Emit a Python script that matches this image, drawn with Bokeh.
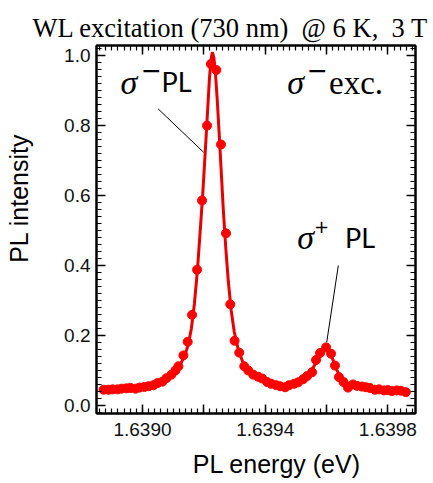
import math
from bokeh.plotting import figure
from bokeh.models import (Range1d, LinearAxis, SingleIntervalTicker, PrintfTickFormatter,
                          CustomJSTickFormatter, Label, Title)
from bokeh.embed import file_html
from bokeh.resources import INLINE

# ---- data ----
energy_pts = [1.6388732, 1.6388894, 1.6389024, 1.6389187, 1.6389317, 1.6389480, 1.6389610,
              1.6389772, 1.6389902, 1.6390065, 1.6390195, 1.6390358, 1.6390488, 1.6390650,
              1.6390780, 1.6390943, 1.6391073, 1.6391171, 1.6391333, 1.6391473, 1.6391616,
              1.6391779, 1.6391941, 1.6392104, 1.6392228, 1.6392406, 1.6392559, 1.6392722,
              1.6392862, 1.6393002, 1.6393154, 1.6393317, 1.6393447, 1.6393610, 1.6393772,
              1.6393902, 1.6394065, 1.6394195, 1.6394358, 1.6394488, 1.6394650, 1.6394780,
              1.6394943, 1.6395073, 1.6395236, 1.6395366, 1.6395528, 1.6395658, 1.6395789,
              1.6395984, 1.6396146, 1.6396276, 1.6396406, 1.6396553, 1.6396699, 1.6396862,
              1.6396992, 1.6397154, 1.6397284, 1.6397415, 1.6397577, 1.6397707, 1.6397870,
              1.6398000, 1.6398130, 1.6398293, 1.6398423, 1.6398585]
intensity_pts = [0.045, 0.045, 0.046, 0.046, 0.048, 0.049, 0.050,
                 0.048, 0.051, 0.053, 0.055, 0.058, 0.064, 0.068,
                 0.078, 0.088, 0.100, 0.112, 0.143, 0.182, 0.259,
                 0.388, 0.586, 0.800, 0.976, 0.959, 0.746, 0.492,
                 0.289, 0.185, 0.151, 0.112, 0.100, 0.088, 0.082,
                 0.077, 0.067, 0.062, 0.058, 0.055, 0.052, 0.058,
                 0.062, 0.066, 0.075, 0.084, 0.095, 0.130, 0.150,
                 0.166, 0.148, 0.114, 0.081, 0.067, 0.051, 0.060,
                 0.056, 0.054, 0.052, 0.050, 0.045, 0.046, 0.043,
                 0.044, 0.041, 0.043, 0.042, 0.038]

energy_fit = [1.6388634, 1.6388959, 1.6389285, 1.6389610, 1.6389935, 1.6390260, 1.6390520,
              1.6390748, 1.6390911, 1.6391073, 1.6391236, 1.6391366, 1.6391496, 1.6391593,
              1.6391691, 1.6391789, 1.6391886, 1.6391967, 1.6392049, 1.6392114, 1.6392179,
              1.6392228, 1.6392276, 1.6392325, 1.6392374, 1.6392439, 1.6392504, 1.6392569,
              1.6392634, 1.6392715, 1.6392797, 1.6392894, 1.6392992, 1.6393122, 1.6393252,
              1.6393415, 1.6393577, 1.6393772, 1.6394000, 1.6394228, 1.6394488, 1.6394748,
              1.6394976, 1.6395203, 1.6395398, 1.6395561, 1.6395724, 1.6395854, 1.6395967,
              1.6396081, 1.6396211, 1.6396341, 1.6396472, 1.6396634, 1.6396829, 1.6397089,
              1.6397415, 1.6397740, 1.6398065, 1.6398390, 1.6398683]
intensity_fit = [0.040, 0.042, 0.045, 0.048, 0.052, 0.058, 0.065,
                 0.075, 0.085, 0.099, 0.118, 0.140, 0.175, 0.220,
                 0.290, 0.385, 0.505, 0.610, 0.730, 0.830, 0.930,
                 0.985, 1.010, 0.995, 0.955, 0.870, 0.770, 0.665,
                 0.560, 0.450, 0.355, 0.270, 0.210, 0.160, 0.128,
                 0.105, 0.090, 0.078, 0.068, 0.062, 0.058, 0.058,
                 0.063, 0.073, 0.088, 0.108, 0.133, 0.152, 0.163,
                 0.155, 0.130, 0.100, 0.080, 0.066, 0.056, 0.050,
                 0.046, 0.043, 0.041, 0.040, 0.039]

NB = "\u00a0"
title_text = "WL excitation (730 nm)" + NB * 2 + "@" + NB + "6 K," + NB * 2 + "3 T"
x_label = "PL energy (eV)"
y_label = "PL intensity"

RED = "#ff0000"

p = figure(width=433, height=483, output_backend="svg", toolbar_location=None,
           x_range=Range1d(1.63885, 1.63989), y_range=Range1d(-0.023, 1.029),
           x_axis_type=None, y_axis_type=None,
           min_border_left=96, min_border_right=18, min_border_top=45, min_border_bottom=70)
p.background_fill_color = "white"
p.border_fill_color = "white"
p.outline_line_color = "black"
p.outline_line_width = 2
p.xgrid.visible = False
p.ygrid.visible = False

xfmt = CustomJSTickFormatter(code="""
const k = Math.round((tick - 1.639) * 1e4);
return (k % 4 === 0) ? tick.toFixed(4) : "";
""")
blank = CustomJSTickFormatter(code="return '';")

def style(ax, labels=True):
    ax.axis_line_color = "black"
    ax.axis_line_width = 2
    ax.major_tick_in = 9
    ax.major_tick_out = 0
    ax.minor_tick_in = 5
    ax.minor_tick_out = 0
    ax.major_tick_line_width = 1.5
    ax.minor_tick_line_width = 1.2
    ax.major_tick_line_color = "black"
    ax.minor_tick_line_color = "black"
    ax.major_label_text_font = "Liberation Sans"
    ax.major_label_text_font_size = "19px"
    if labels:
        ax.major_label_text_color = "#111111"
    else:
        ax.major_label_text_color = None
        ax.major_label_standoff = 0

def axis_label(ax, text, standoff):
    ax.axis_label = text
    ax.axis_label_standoff = standoff
    ax.axis_label_text_font = "Liberation Sans"
    ax.axis_label_text_font_size = "25px"
    ax.axis_label_text_font_style = "normal"
    ax.axis_label_text_color = "black"

xb = LinearAxis(ticker=SingleIntervalTicker(interval=0.0002, num_minor_ticks=10), formatter=xfmt)
style(xb)
xb.major_label_standoff = 9
axis_label(xb, NB * 6 + x_label, 11)
p.add_layout(xb, "below")

xt = LinearAxis(ticker=SingleIntervalTicker(interval=0.0002, num_minor_ticks=10), formatter=blank)
style(xt, labels=False)
p.add_layout(xt, "above")

yl = LinearAxis(ticker=SingleIntervalTicker(interval=0.2, num_minor_ticks=10),
                formatter=PrintfTickFormatter(format="%.1f"))
style(yl)
yl.major_label_standoff = 6
axis_label(yl, NB * 9 + y_label, 28)
p.add_layout(yl, "left")

yr = LinearAxis(ticker=SingleIntervalTicker(interval=0.2, num_minor_ticks=10), formatter=blank)
style(yr, labels=False)
p.add_layout(yr, "right")

p.add_layout(Title(text=title_text, align="left", offset=-64, vertical_align="bottom", standoff=6,
                   text_font="Liberation Serif", text_font_size="26.5px", text_font_style="normal",
                   text_color="black"), "above")

# fit line and data points
p.line(energy_fit, intensity_fit, line_color="#e80000", line_width=3)
p.scatter(energy_pts, intensity_pts, size=9, fill_color=RED, line_color=RED)

# leader lines
p.line([1.6390511, 1.6391993], [0.8477, 0.7237], line_color="black", line_width=1)
p.line([1.6396384, 1.6396006], [0.400, 0.1809], line_color="black", line_width=1)

def lab(x, y, t, font, size, style="normal", align="left", base="alphabetic"):
    p.add_layout(Label(x=x, y=y, text=t, text_font=font, text_font_size=size,
                       text_font_style=style, text_align=align, text_baseline=base,
                       text_color="black"))

# sigma- PL
lab(1.6389285, 0.9229, "σ", "Liberation Serif", "34px", style="italic")
lab(1.6390293, 0.9583, "−", "DejaVu Sans", "25px", align="center")
lab(1.6390618, 0.9249, "PL", "Lato", "27px")
# sigma- exc.
lab(1.6394715, 0.9229, "σ", "Liberation Serif", "34px", style="italic")
lab(1.6395707, 0.9583, "−", "DejaVu Sans", "25px", align="center")
lab(1.6396081, 0.9229, "exc.", "Liberation Serif", "33px")
# sigma+ PL
lab(1.6395041, 0.4800, "σ", "Liberation Serif", "34px", style="italic")
lab(1.6395837, 0.5120, "+", "DejaVu Sans", "18px", align="center")
lab(1.6396602, 0.4800, "PL", "Lato", "27px")

open("out.html", "w").write(file_html(p, INLINE))
